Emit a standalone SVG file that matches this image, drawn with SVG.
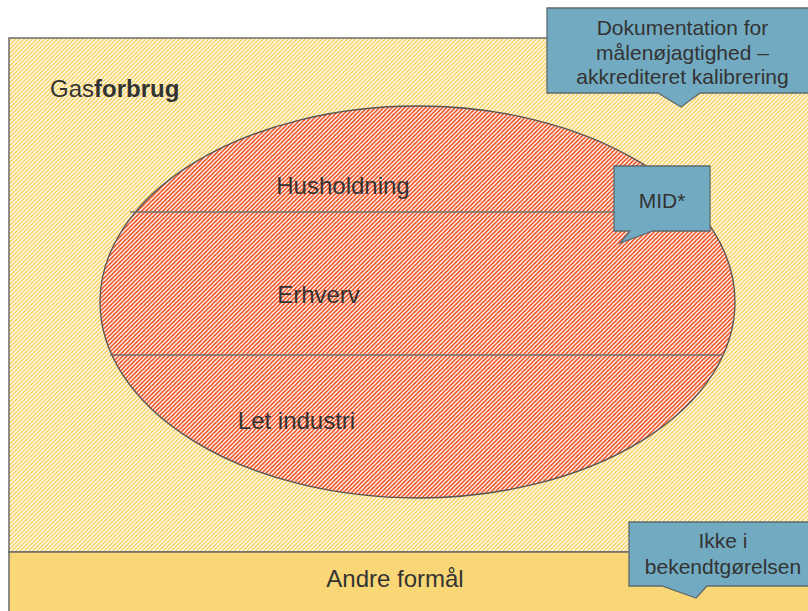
<svg xmlns="http://www.w3.org/2000/svg" width="808" height="611" viewBox="0 0 808 611">
<defs>
<pattern id="hatchY" patternUnits="userSpaceOnUse" width="4.2" height="4.2">
<rect width="4.2" height="4.2" fill="#ffffff"/>
<path d="M-1,1 L1,-1 M0,4.2 L4.2,0 M3.2,5.2 L5.2,3.2" stroke="#F8CE55" stroke-width="1.5"/>
</pattern>
<pattern id="hatchR" patternUnits="userSpaceOnUse" width="4.2" height="4.2">
<rect width="4.2" height="4.2" fill="#ffffff"/>
<path d="M-1,1 L1,-1 M0,4.2 L4.2,0 M3.2,5.2 L5.2,3.2" stroke="#EF4815" stroke-width="1.6"/>
</pattern>
</defs>
<style>
.lbl{font-family:"Liberation Sans",Arial,sans-serif;font-size:24px;fill:#333333}
.co{font-family:"Liberation Sans",Arial,sans-serif;font-size:21px;fill:#333333;text-anchor:middle}
.callout{fill:#72ABC1;stroke:#5E6A70;stroke-width:1.3}
.frame{stroke:#6b6b6b;stroke-width:1.5}
.div{stroke:#707070;stroke-width:1.5}
</style>
<rect x="0" y="0" width="808" height="611" fill="#ffffff"/>
<g id="gasforbrug">
<rect class="frame" x="9" y="38" width="810" height="514" fill="url(#hatchY)"/>
<text class="lbl" x="50" y="97">Gas<tspan font-weight="bold">forbrug</tspan></text>
</g>
<g id="andre">
<rect class="frame" x="9" y="552" width="810" height="70" fill="#FAD776"/>
<text class="lbl" x="395" y="587" text-anchor="middle">Andre formål</text>
</g>
<g id="ellipse">
<ellipse cx="417.5" cy="302" rx="317.5" ry="196" fill="url(#hatchR)" stroke="#555555" stroke-width="1.3"/>
</g>
<g id="connectors">
<line class="div" x1="130" y1="212" x2="616" y2="212"/>
<line class="div" x1="110" y1="355" x2="722" y2="355"/>
</g>
<g id="husholdning">
<text class="lbl" x="343" y="194" text-anchor="middle">Husholdning</text>
</g>
<g id="erhverv">
<text class="lbl" x="318.5" y="303" text-anchor="middle">Erhverv</text>
</g>
<g id="letindustri">
<text class="lbl" x="296.5" y="429" text-anchor="middle">Let industri</text>
</g>
<g id="callout-dok">
<path class="callout" d="M547,8 H820 V93 H700 L681,107 L658,93 H547 Z"/>
<text class="co" x="682.5" y="35">Dokumentation for</text>
<text class="co" x="682.5" y="59.5">målenøjagtighed –</text>
<text class="co" x="682.5" y="84">akkrediteret kalibrering</text>
</g>
<g id="callout-mid">
<path class="callout" d="M614,166 H710 V231 H653 L620,243 L630,231 H614 Z"/>
<text class="co" x="662" y="208" font-size="22">MID*</text>
</g>
<g id="callout-ikke">
<path class="callout" d="M629,522 H820 V586 H707 L696,598 L662,586 H629 Z"/>
<text class="co" x="723" y="548">Ikke i</text>
<text class="co" x="723" y="574">bekendtgørelsen</text>
</g>
</svg>
